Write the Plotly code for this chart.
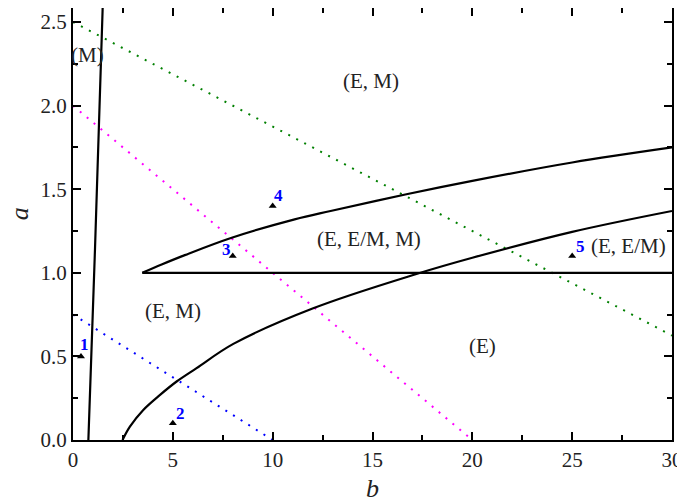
import plotly.graph_objects as go

# Boundary curves (b, a)
vert_b = [0.77, 1.10, 1.49]
vert_a = [0.0, 1.136, 2.6]

upper_b = [3.47, 4.44, 5.6, 7.95, 11.1, 12.9, 16.7, 20.0, 25.0, 30.0]
upper_a = [1.0, 1.05, 1.106, 1.21, 1.32, 1.37, 1.47, 1.55, 1.66, 1.75]

lower_b = [2.48, 2.85, 3.52, 4.36, 5.19, 6.19, 8.03, 12.03, 17.2, 20.0, 25.0, 30.0]
lower_a = [0.0, 0.08, 0.18, 0.27, 0.35, 0.43, 0.575, 0.788, 0.993, 1.09, 1.245, 1.37]

horiz_b = [3.47, 30.0]
horiz_a = [1.0, 1.0]

# Dotted lines
green_b = [0.0, 30.0]
green_a = [2.5, 0.625]
magenta_b = [0.0, 20.0]
magenta_a = [2.0, 0.0]
blue_b = [0.0, 10.0]
blue_a = [0.75, 0.0]

# Marked points
pt_b = [0.4, 5.0, 8.0, 10.0, 25.0]
pt_a = [0.5, 0.1, 1.1, 1.4, 1.1]
pt_lbl = ["1", "2", "3", "4", "5"]
pt_dx = [0.2, 0.36, -0.3, 0.28, 0.42]
pt_dy = [0.07, 0.06, 0.04, 0.06, 0.055]

# Region labels
reg_txt = ["(M)", "(E, M)", "(E, E/M, M)", "(E, M)", "(E)", "(E, E/M)"]
reg_b = [0.75, 14.9, 14.8, 5.0, 20.5, 27.8]
reg_a = [2.3, 2.15, 1.2, 0.77, 0.56, 1.16]

FONT = "Liberation Serif"

fig = go.Figure()
for xs, ys, col, dash in [
    (green_b, green_a, "#008000", "2px,7px"),
    (magenta_b, magenta_a, "#ff00ff", "2px,7px"),
    (blue_b, blue_a, "#0000ff", "2px,7px"),
]:
    fig.add_trace(go.Scatter(x=xs, y=ys, mode="lines",
                             line=dict(color=col, width=2, dash=dash),
                             showlegend=False, hoverinfo="skip"))

for xs, ys in [(vert_b, vert_a), (upper_b, upper_a), (lower_b, lower_a), (horiz_b, horiz_a)]:
    fig.add_trace(go.Scatter(x=xs, y=ys, mode="lines",
                             line=dict(color="black", width=2.2, shape="spline", smoothing=1.0),
                             showlegend=False, hoverinfo="skip"))

fig.add_trace(go.Scatter(x=pt_b, y=pt_a, mode="markers",
                         marker=dict(symbol="triangle-up", size=7, color="black"),
                         showlegend=False))

for b, a, t, dx, dy in zip(pt_b, pt_a, pt_lbl, pt_dx, pt_dy):
    fig.add_annotation(x=b + dx, y=a + dy, text="<b>%s</b>" % t, showarrow=False,
                       font=dict(family=FONT, size=17, color="#0000ff"))

for t, b, a in zip(reg_txt, reg_b, reg_a):
    fig.add_annotation(x=b, y=a, text=t, showarrow=False,
                       font=dict(family=FONT, size=21, color="#222222"))

# y-axis title placed as an annotation left of the tick labels
fig.add_annotation(xref="paper", x=0, yref="y", y=1.35, xanchor="center", xshift=-54,
                   text="<i>a</i>", showarrow=False, textangle=-90,
                   font=dict(family=FONT, size=26, color="#222222"))

axis_common = dict(
    showline=True, linecolor="black", linewidth=2, mirror="allticks",
    ticks="inside", ticklen=8, tickwidth=1.5, tickcolor="black",
    showgrid=False, zeroline=False, automargin=False,
    tickfont=dict(family=FONT, size=21, color="#222222"),
)

fig.update_xaxes(range=[0, 30], dtick=5, tick0=0,
                 minor=dict(ticks="inside", ticklen=5, dtick=2.5, tickwidth=1.5, tickcolor="black"),
                 title=dict(text="<i>b</i>", font=dict(family=FONT, size=26, color="#222222"), standoff=10),
                 **axis_common)
fig.update_yaxes(range=[0, 2.584], dtick=0.5, tick0=0, tickformat=".1f",
                 minor=dict(ticks="inside", ticklen=5, dtick=0.25, tickwidth=1.5, tickcolor="black"),
                 **axis_common)

# the page body adds an 8px offset, so the figure is sized to fit the remaining window
fig.update_layout(width=677, height=495, margin=dict(l=65, r=13, t=0, b=63),
                  plot_bgcolor="white", paper_bgcolor="white")

fig.write_html("out.html")
